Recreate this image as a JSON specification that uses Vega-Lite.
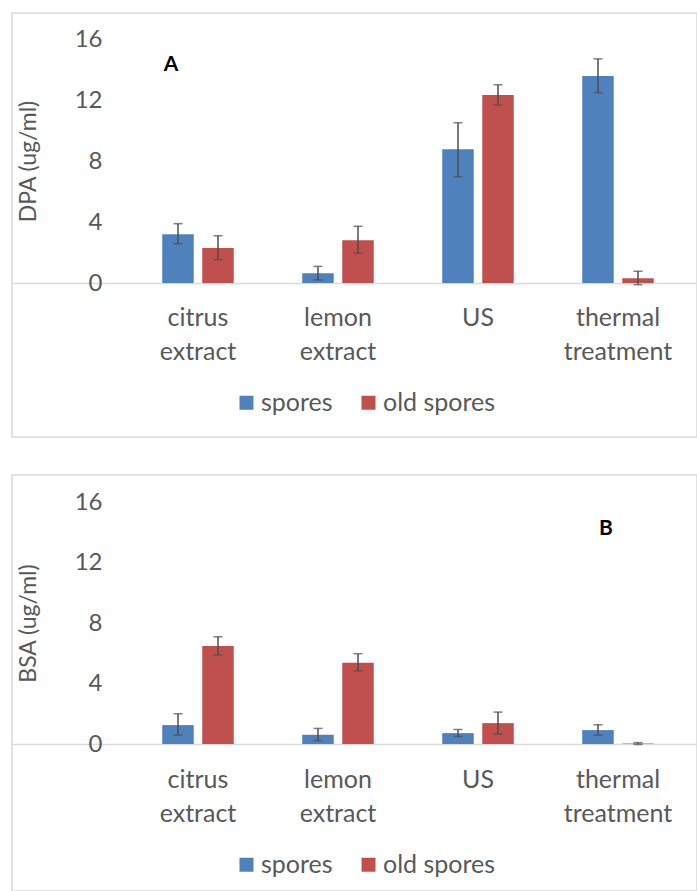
{
  "$schema": "https://vega.github.io/schema/vega-lite/v6.json",
  "padding": {"left": 11, "top": 12, "right": 0, "bottom": 0},
  "background": "white",
  "datasets": {
    "dpa": [
      {"treatment": "citrus extract", "sample": "spores", "value": 3.2, "lo": 2.58, "hi": 3.89},
      {"treatment": "citrus extract", "sample": "old spores", "value": 2.3, "lo": 1.53, "hi": 3.1},
      {"treatment": "lemon extract", "sample": "spores", "value": 0.64, "lo": 0.2, "hi": 1.09},
      {"treatment": "lemon extract", "sample": "old spores", "value": 2.8, "lo": 1.95, "hi": 3.72},
      {"treatment": "US", "sample": "spores", "value": 8.77, "lo": 6.97, "hi": 10.51},
      {"treatment": "US", "sample": "old spores", "value": 12.33, "lo": 11.67, "hi": 13.0},
      {"treatment": "thermal treatment", "sample": "spores", "value": 13.57, "lo": 12.48, "hi": 14.7},
      {"treatment": "thermal treatment", "sample": "old spores", "value": 0.31, "lo": -0.11, "hi": 0.77}
    ],
    "bsa": [
      {"treatment": "citrus extract", "sample": "spores", "value": 1.25, "lo": 0.59, "hi": 2.0},
      {"treatment": "citrus extract", "sample": "old spores", "value": 6.48, "lo": 5.89, "hi": 7.09},
      {"treatment": "lemon extract", "sample": "spores", "value": 0.61, "lo": 0.22, "hi": 1.03},
      {"treatment": "lemon extract", "sample": "old spores", "value": 5.38, "lo": 4.83, "hi": 5.97},
      {"treatment": "US", "sample": "spores", "value": 0.72, "lo": 0.5, "hi": 0.96},
      {"treatment": "US", "sample": "old spores", "value": 1.38, "lo": 0.66, "hi": 2.11},
      {"treatment": "thermal treatment", "sample": "spores", "value": 0.92, "lo": 0.59, "hi": 1.27},
      {"treatment": "thermal treatment", "sample": "old spores", "value": 0.03, "lo": -0.03, "hi": 0.09}
    ]
  },
  "vconcat": [
    {
      "width": 685,
      "height": 424,
      "layer": [
        {
          "data": {"name": "dpa"},
          "mark": {"type": "bar"},
          "encoding": {
            "x": {"field": "treatment", "type": "nominal", "sort": ["citrus extract", "lemon extract", "US", "thermal treatment"],
                  "scale": {"paddingInner": 0, "paddingOuter": 0.4464, "align": 0.928},
                  "axis": {"orient": "bottom", "offset": -154, "title": null, "domainColor": "#d9d9d9", "domainWidth": 1.5, "ticks": false, "labelFontSize": 25, "labelColor": "#595959", "labelPadding": 22, "labelAngle": 0, "labelLineHeight": 34, "labelOverlap": false, "labelExpr": "split(datum.label, ' ')"}},
            "xOffset": {"field": "sample", "type": "nominal", "sort": ["spores", "old spores"], "scale": {"paddingInner": 0.2125, "paddingOuter": 0.856}},
            "y": {"field": "value", "type": "quantitative", "scale": {"domain": [0, 16], "range": [270, 26], "nice": false, "zero": false},
                  "axis": {"orient": "left", "offset": -94, "title": "DPA (ug/ml)", "titleFontSize": 23, "titleColor": "#595959", "titleFontWeight": "normal", "titlePadding": 34, "labelFontSize": 24, "labelColor": "#595959", "labelPadding": 4, "ticks": false, "domain": false, "grid": false, "values": [0, 4, 8, 12, 16]}},
            "color": {"field": "sample", "type": "nominal", "scale": {"domain": ["spores", "old spores"], "range": ["#4F81BD", "#C0504D"]},
                      "legend": {"orient": "none", "legendX": 222, "legendY": 377, "direction": "horizontal", "title": null, "symbolType": "square", "symbolSize": 196, "symbolStrokeWidth": 0, "labelFontSize": 25, "labelColor": "#595959", "columnPadding": 23, "labelOffset": 2, "padding": 0}}
          }
        },
        {
          "data": {"name": "dpa"},
          "mark": {"type": "rule", "color": "#4d4d4d", "strokeWidth": 1.5},
          "encoding": {
            "x": {"field": "treatment", "type": "nominal", "sort": ["citrus extract", "lemon extract", "US", "thermal treatment"]},
            "xOffset": {"field": "sample", "type": "nominal", "sort": ["spores", "old spores"]},
            "y": {"field": "lo", "type": "quantitative", "title": "DPA (ug/ml)"},
            "y2": {"field": "hi"}
          }
        },
        {
          "data": {"name": "dpa"},
          "mark": {"type": "tick", "color": "#4d4d4d", "thickness": 1.5, "size": 9},
          "encoding": {
            "x": {"field": "treatment", "type": "nominal", "sort": ["citrus extract", "lemon extract", "US", "thermal treatment"]},
            "xOffset": {"field": "sample", "type": "nominal", "sort": ["spores", "old spores"]},
            "y": {"field": "lo", "type": "quantitative", "title": "DPA (ug/ml)"}
          }
        },
        {
          "data": {"name": "dpa"},
          "mark": {"type": "tick", "color": "#4d4d4d", "thickness": 1.5, "size": 9},
          "encoding": {
            "x": {"field": "treatment", "type": "nominal", "sort": ["citrus extract", "lemon extract", "US", "thermal treatment"]},
            "xOffset": {"field": "sample", "type": "nominal", "sort": ["spores", "old spores"]},
            "y": {"field": "hi", "type": "quantitative", "title": "DPA (ug/ml)"}
          }
        },
        {
          "data": {"values": [{"letter": "A"}]},
          "mark": {"type": "text", "fontWeight": "bold", "fontSize": 21, "color": "black", "dx": -27, "baseline": "middle", "align": "center"},
          "encoding": {
            "x": {"datum": "citrus extract"},
            "y": {"datum": 14.3},
            "text": {"field": "letter"}
          }
        }
      ]
    },
    {
      "width": 685,
      "height": 416,
      "layer": [
        {
          "data": {"name": "bsa"},
          "mark": {"type": "bar"},
          "encoding": {
            "x": {"field": "treatment", "type": "nominal", "sort": ["citrus extract", "lemon extract", "US", "thermal treatment"],
                  "scale": {"paddingInner": 0, "paddingOuter": 0.4464, "align": 0.928},
                  "axis": {"orient": "bottom", "offset": -147, "title": null, "domainColor": "#d9d9d9", "domainWidth": 1.5, "ticks": false, "labelFontSize": 25, "labelColor": "#595959", "labelPadding": 23, "labelAngle": 0, "labelLineHeight": 34, "labelOverlap": false, "labelExpr": "split(datum.label, ' ')"}},
            "xOffset": {"field": "sample", "type": "nominal", "sort": ["spores", "old spores"], "scale": {"paddingInner": 0.2125, "paddingOuter": 0.856}},
            "y": {"field": "value", "type": "quantitative", "scale": {"domain": [0, 16], "range": [269, 27], "nice": false, "zero": false},
                  "axis": {"orient": "left", "offset": -94, "title": "BSA (ug/ml)", "titleFontSize": 23, "titleColor": "#595959", "titleFontWeight": "normal", "titlePadding": 34, "labelFontSize": 24, "labelColor": "#595959", "labelPadding": 4, "ticks": false, "domain": false, "grid": false, "values": [0, 4, 8, 12, 16]}},
            "color": {"field": "sample", "type": "nominal", "scale": {"domain": ["spores", "old spores"], "range": ["#4F81BD", "#C0504D"]},
                      "legend": {"orient": "none", "legendX": 222, "legendY": 377, "direction": "horizontal", "title": null, "symbolType": "square", "symbolSize": 196, "symbolStrokeWidth": 0, "labelFontSize": 25, "labelColor": "#595959", "columnPadding": 23, "labelOffset": 2, "padding": 0}}
          }
        },
        {
          "data": {"name": "bsa"},
          "mark": {"type": "rule", "color": "#4d4d4d", "strokeWidth": 1.5},
          "encoding": {
            "x": {"field": "treatment", "type": "nominal", "sort": ["citrus extract", "lemon extract", "US", "thermal treatment"]},
            "xOffset": {"field": "sample", "type": "nominal", "sort": ["spores", "old spores"]},
            "y": {"field": "lo", "type": "quantitative", "title": "BSA (ug/ml)"},
            "y2": {"field": "hi"}
          }
        },
        {
          "data": {"name": "bsa"},
          "mark": {"type": "tick", "color": "#4d4d4d", "thickness": 1.5, "size": 9},
          "encoding": {
            "x": {"field": "treatment", "type": "nominal", "sort": ["citrus extract", "lemon extract", "US", "thermal treatment"]},
            "xOffset": {"field": "sample", "type": "nominal", "sort": ["spores", "old spores"]},
            "y": {"field": "lo", "type": "quantitative", "title": "BSA (ug/ml)"}
          }
        },
        {
          "data": {"name": "bsa"},
          "mark": {"type": "tick", "color": "#4d4d4d", "thickness": 1.5, "size": 9},
          "encoding": {
            "x": {"field": "treatment", "type": "nominal", "sort": ["citrus extract", "lemon extract", "US", "thermal treatment"]},
            "xOffset": {"field": "sample", "type": "nominal", "sort": ["spores", "old spores"]},
            "y": {"field": "hi", "type": "quantitative", "title": "BSA (ug/ml)"}
          }
        },
        {
          "data": {"values": [{"letter": "B"}]},
          "mark": {"type": "text", "fontWeight": "bold", "fontSize": 21, "color": "black", "dx": -12, "baseline": "middle", "align": "center"},
          "encoding": {
            "x": {"datum": "thermal treatment"},
            "y": {"datum": 14.19},
            "text": {"field": "letter"}
          }
        }
      ]
    }
  ],
  "spacing": 38,
  "bounds": "flush",
  "resolve": {"legend": {"color": "independent"}},
  "config": {
    "font": "Lato",
    "view": {"stroke": "#d9d9d9", "strokeWidth": 1.5},
    "axis": {"labelFont": "Lato", "titleFont": "Lato"},
    "legend": {"labelFont": "Lato"},
    "text": {"font": "Lato"}
  }
}
